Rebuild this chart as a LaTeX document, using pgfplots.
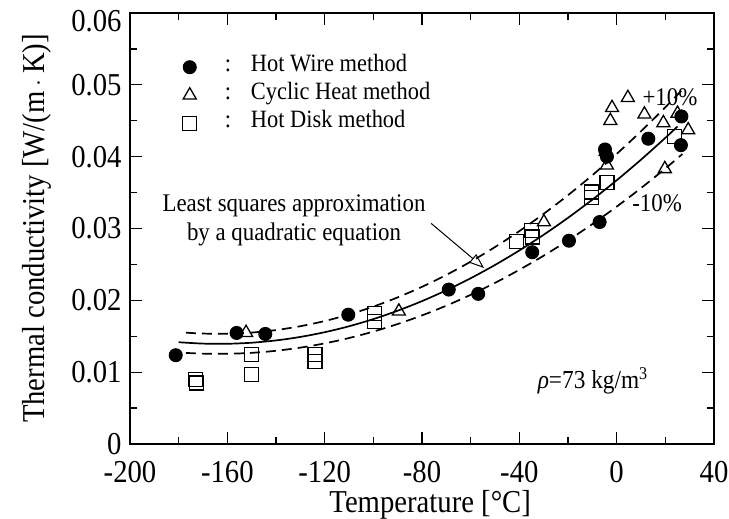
\documentclass[border=0pt]{standalone}
\usepackage{fontspec}
\setmainfont[FakeStretch=0.9]{Liberation Serif}
\usepackage{pgfplots}
\pgfplotsset{compat=1.18}
\usetikzlibrary{arrows.meta}
\begin{document}
\begin{tikzpicture}
\begin{axis}[
  scale only axis, width=584bp, height=431bp,
  xmin=-200, xmax=40, ymin=0, ymax=0.06,
  xtick={-200,-160,-120,-80,-40,0,40},
  xticklabels={-200,-160,-120,-80,-40,0,40},
  ytick={0,0.01,0.02,0.03,0.04,0.05,0.06},
  yticklabels={0,0.01,0.02,0.03,0.04,0.05,{\raisebox{-19bp}[0pt][0pt]{0.06}}},
  minor x tick num=1, minor y tick num=1,
  tick align=inside, major tick length=12bp, minor tick length=7bp,
  axis line style={line width=1.5bp},
  every tick/.style={black, line width=1.3bp},
  tick label style={font=\fontsize{32}{32}\selectfont},
  xticklabel style={yshift=-14bp},
  yticklabel style={xshift=-5bp},
  xlabel={Temperature [\textdegree C]},
  ylabel={Thermal conductivity [W/(m\,$\cdot$\,K)]},
  xlabel style={font=\fontsize{32}{32}\selectfont, at={(axis description cs:0.514,-0.142)}, anchor=center},
  ylabel style={font=\fontsize{32}{32}\selectfont, at={(axis description cs:-0.159,0.5)}, anchor=center},
  legend style={at={(axis description cs:0.090,0.906)}, anchor=north west, draw=none, fill=none,
    inner sep=0pt, column sep=4bp, row sep=1bp, font=\fontsize{25}{29}\selectfont,
    nodes={inner sep=0pt, text height=18bp, text depth=9bp}},
  legend cell align=left,
]
\addplot[only marks, mark=*, mark size=6.5bp, mark options={fill=black, line width=1bp}] coordinates {
(-181.2,0.01236) (-156.2,0.01546) (-144.4,0.01532) (-110.3,0.0180) (-69.0,0.0215) (-56.9,0.0209)
(-34.7,0.0267) (-19.6,0.0283) (-7.0,0.0309) (-4.0,0.0400) (-4.8,0.0410) (13.0,0.0425) (26.6,0.0456) (26.4,0.0416)
};
\addlegendentry{\hspace*{24bp}:\hspace*{20bp}Hot Wire method}
\addplot[only marks, mark=triangle, mark size=7.5bp, mark options={line width=1.3bp}] coordinates {
(-152.3,0.0155) (-89.5,0.01847) (-29.9,0.0309) (-4.0,0.0388) (-4.5,0.0407) (-2.6,0.0450) (-1.9,0.0468)
(4.6,0.0482) (11.4,0.0459) (19.2,0.0447) (19.8,0.0383) (25.0,0.0460) (29.4,0.0437)
};
\addlegendentry{\hspace*{24bp}:\hspace*{20bp}Cyclic Heat method}
\addplot[only marks, mark=square, mark size=7bp, mark options={line width=1.3bp}] coordinates {
(-173.0,0.0090) (-172.6,0.0085) (-150.2,0.0125) (-150.2,0.00968) (-124.0,0.0125) (-124.0,0.0115)
(-99.4,0.0182) (-99.4,0.0171) (-41.2,0.0282) (-35.0,0.0297) (-34.7,0.0288)
(-10.4,0.0351) (-10.4,0.0343) (-4.0,0.0364) (23.9,0.0428)
};
\addlegendentry{\hspace*{24bp}:\hspace*{20bp}Hot Disk method}
\addplot[black, line width=1.7bp, smooth, forget plot] coordinates {
(-180,0.014168) (-170,0.013976) (-160,0.013953) (-150,0.014100) (-140,0.014418) (-130,0.014905)
(-120,0.015562) (-110,0.016389) (-100,0.017387) (-90,0.018555) (-80,0.019892) (-70,0.021399)
(-60,0.023076) (-50,0.024924) (-40,0.026942) (-30,0.029129) (-20,0.031487) (-10,0.034014)
(0,0.036712) (10,0.039580) (20,0.042617) (25,0.0442)
};
\addplot[black, line width=1.7bp, smooth, dash pattern=on 10bp off 6bp, forget plot] coordinates {
(-177,0.01550) (-170,0.015374) (-160,0.015348) (-150,0.015510) (-140,0.015860) (-130,0.016396)
(-120,0.017118) (-110,0.018028) (-100,0.019126) (-90,0.020411) (-80,0.021881) (-70,0.023539)
(-60,0.025384) (-50,0.027416) (-40,0.029636) (-30,0.032042) (-20,0.034636) (-10,0.037415)
(0,0.040383) (10,0.043538) (20,0.046879) (28,0.049686)
};
\addplot[black, line width=1.7bp, smooth, dash pattern=on 10bp off 6bp, forget plot] coordinates {
(-177,0.012684) (-170,0.012578) (-160,0.012558) (-150,0.012690) (-140,0.012976) (-130,0.013415)
(-120,0.014006) (-110,0.014750) (-100,0.015648) (-90,0.016700) (-80,0.017903) (-70,0.019259)
(-60,0.020768) (-50,0.022432) (-40,0.024248) (-30,0.026216) (-20,0.028338) (-10,0.030613)
(0,0.033041) (10,0.035622) (20,0.038355) (27,0.040361)
};
\draw[-{Triangle[open, length=15bp, width=11bp]}, line width=1bp] (axis cs:-76.2,0.0307) -- (axis cs:-54.5,0.0245);
\node[align=center, font=\fontsize{25.5}{29}\selectfont] at (axis cs:-132.6,0.0311) {Least squares approximation\\by a quadratic equation};
\node[font=\fontsize{25.5}{25.5}\selectfont] at (axis cs:21.9,0.0483) {+10\%};
\node[font=\fontsize{25.5}{25.5}\selectfont] at (axis cs:16.6,0.03355) {-10\%};
\node[font=\fontsize{26}{26}\selectfont, anchor=base west, inner sep=0pt] at (axis cs:-32.5,0.00766) {\textit{ρ}=73 kg/m\raisebox{9bp}{\fontsize{18}{18}\selectfont 3}};
\end{axis}
\pgfresetboundingbox
\path (-130bp,-75bp) rectangle (599bp,444bp);
\end{tikzpicture}
\end{document}
